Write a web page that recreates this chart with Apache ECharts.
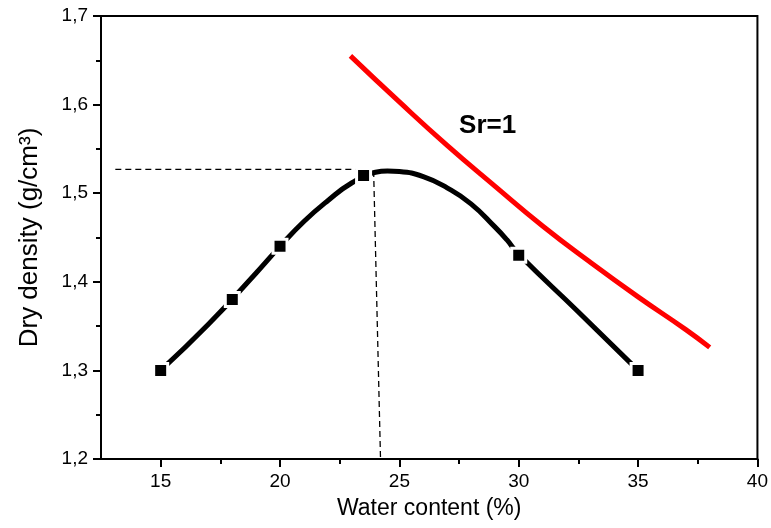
<!DOCTYPE html>
<html>
<head>
<meta charset="utf-8">
<script src="https://cdn.jsdelivr.net/npm/echarts@6/dist/echarts.min.js"></script>
<style>
  html, body { margin: 0; padding: 0; background: #fff; }
  #chart { width: 771px; height: 528px; }
</style>
</head>
<body>
<div id="chart"></div>
<script>
// measured points (compaction test)
var waterContent = [15, 18, 20, 23.5, 30, 35]
var dryDensity = [1.30, 1.38, 1.44, 1.52, 1.43, 1.30]

// fitted curve
var fitWater = [15, 17, 19, 20, 21, 22, 23, 24, 24.5, 25, 26, 27, 28, 29, 29.5, 30, 32.5, 35]
var fitDensity = [1.30, 1.352, 1.41, 1.44, 1.468, 1.4915, 1.5115, 1.5236, 1.525, 1.5244, 1.5187, 1.506, 1.488, 1.462, 1.4475, 1.431, 1.366, 1.30]

// saturation line Sr=1
var satWater = [22.95, 25, 27, 29, 31, 33, 35, 37, 38]
var satDensity = [1.655, 1.603, 1.554, 1.508, 1.463, 1.422, 1.383, 1.346, 1.326]

// optimum guide lines
var optWater = [13.1, 23.92, 24.21]
var optDensity = [1.527, 1.527, 1.2]

var xTicks = [15, 20, 25, 30, 35, 40]
var xMinorTicks = [17.5, 22.5, 27.5, 32.5, 37.5]

function pairs (xs, ys) {
  var out = []
  for (var i = 0; i < xs.length; i++) {
    out.push([xs[i], ys[i]])
  }
  return out
}

var font = 'Liberation Sans'
var chart = echarts.init(document.getElementById('chart'), null, { renderer: 'canvas' })

var option = {
  backgroundColor: '#fff',
  animation: false,
  textStyle: { fontFamily: font },
  grid: {
    left: 101, right: 10, top: 16, bottom: 69,
    show: true, borderColor: '#000', borderWidth: 2
  },
  xAxis: [
    {
      type: 'value', min: 12.5, max: 40,
      name: 'Water content (%)',
      nameLocation: 'middle', nameGap: 38,
      nameTextStyle: { fontSize: 23, color: '#000', fontFamily: font },
      axisLine: { show: true, onZero: false, lineStyle: { color: '#000', width: 2 } },
      axisTick: { show: true, length: 8, customValues: xTicks, lineStyle: { color: '#000', width: 2 } },
      axisLabel: { customValues: xTicks, margin: 13, fontSize: 19, color: '#000', fontFamily: font },
      splitLine: { show: false }
    },
    {
      // minor ticks only
      type: 'value', min: 12.5, max: 40, position: 'bottom',
      axisLine: { show: false },
      axisTick: { show: true, length: 5, customValues: xMinorTicks, lineStyle: { color: '#000', width: 2 } },
      axisLabel: { show: false },
      splitLine: { show: false }
    }
  ],
  yAxis: {
    type: 'value', min: 1.2, max: 1.7, interval: 0.1,
    name: 'Dry density (g/cm³)',
    nameLocation: 'middle', nameGap: 58, nameRotate: 90,
    nameTextStyle: { fontSize: 26, color: '#000', fontFamily: font },
    axisLine: { show: true, onZero: false, lineStyle: { color: '#000', width: 2 } },
    axisTick: { show: true, length: 8, lineStyle: { color: '#000', width: 2 } },
    minorTick: { show: true, splitNumber: 2, length: 5, lineStyle: { color: '#000', width: 2 } },
    axisLabel: {
      margin: 13, fontSize: 19, color: '#000', fontFamily: font,
      formatter: function (v) { return v.toFixed(1).replace('.', ',') }
    },
    splitLine: { show: false },
    minorSplitLine: { show: false }
  },
  series: [
    {
      name: 'guide',
      type: 'line',
      data: pairs(optWater, optDensity),
      symbol: 'none',
      lineStyle: { color: '#000', width: 1.3, type: [6, 4] },
      z: 1
    },
    {
      name: 'Sr=1',
      type: 'line',
      data: pairs(satWater, satDensity),
      smooth: true,
      symbol: 'none',
      lineStyle: { color: '#ff0000', width: 5 },
      z: 2
    },
    {
      name: 'fit',
      type: 'line',
      data: pairs(fitWater, fitDensity),
      smooth: true,
      symbol: 'none',
      lineStyle: { color: '#000', width: 5 },
      z: 3
    },
    {
      name: 'measured',
      type: 'scatter',
      data: pairs(waterContent, dryDensity),
      symbol: 'rect',
      symbolSize: 14,
      itemStyle: { color: '#000', opacity: 1, borderColor: '#fff', borderWidth: 3 },
      z: 4
    },
    {
      name: 'label',
      type: 'scatter',
      data: [[27.5, 1.576]],
      symbolSize: 0,
      itemStyle: { opacity: 1 },
      label: {
        show: true, position: 'right', distance: 0,
        formatter: 'Sr=1',
        fontSize: 26, fontWeight: 'bold', color: '#000', fontFamily: font
      },
      z: 5
    }
  ]
}

chart.setOption(option)
</script>
</body>
</html>
